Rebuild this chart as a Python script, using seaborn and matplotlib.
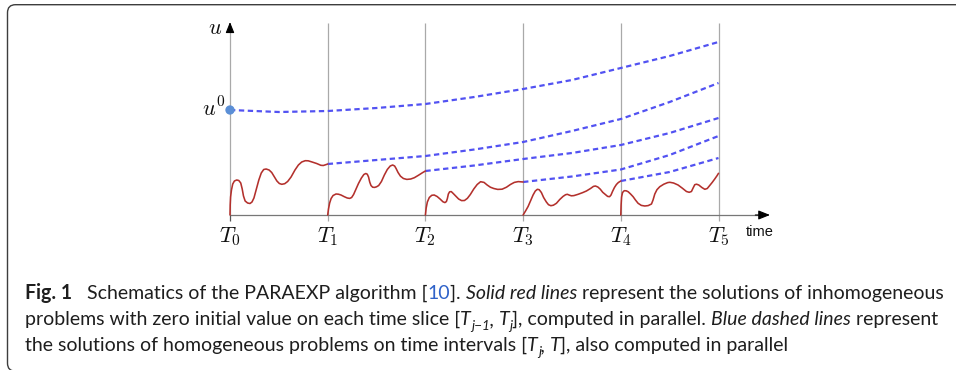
import matplotlib
matplotlib.use("Agg")
import numpy as np
import matplotlib.pyplot as plt
import seaborn as sns
from matplotlib.patches import FancyBboxPatch


# Data (time in slice units, u in arbitrary units)

slice_times = [0, 1, 2, 3, 4, 5]
slice_labels = [r"$T_0$", r"$T_1$", r"$T_2$", r"$T_3$", r"$T_4$", r"$T_5$"]

# solid red lines: inhomogeneous solutions on each slice
red1_t = [0, 0.002, 0.006, 0.015, 0.028, 0.045, 0.069, 0.09, 0.11, 0.125, 0.138, 0.155,
          0.18, 0.205, 0.225, 0.245, 0.27, 0.295, 0.32, 0.345, 0.37, 0.40, 0.427, 0.455,
          0.48, 0.505, 0.53, 0.56, 0.59, 0.625, 0.665, 0.70, 0.734, 0.77, 0.80, 0.84,
          0.887, 0.93, 0.955, 0.98, 1.0]
red1_u = [0, 10, 18, 25, 31, 34, 35, 34.5, 32, 26, 19, 14,
          12, 11.5, 13, 17, 26, 35, 42, 45.5, 46, 45, 42.5, 38,
          34, 31.5, 30.7, 31.3, 33.5, 38, 45, 50, 53, 54.3, 54.2, 53,
          51.5, 49.7, 49.5, 50.3, 51]

red2_t = [1.0, 1.008, 1.02, 1.035, 1.055, 1.085, 1.11, 1.136, 1.17, 1.20, 1.225, 1.245,
          1.265, 1.29, 1.315, 1.345, 1.37, 1.39, 1.405, 1.418, 1.43, 1.443, 1.46, 1.48,
          1.50, 1.522, 1.55, 1.58, 1.61, 1.64, 1.665, 1.685, 1.70, 1.72, 1.745, 1.775,
          1.81, 1.85, 1.887, 1.93, 1.97, 2.0]
red2_u = [0, 6, 12, 16.5, 19.5, 21, 20.8, 20, 18.3, 17, 16.6, 17.5,
          20.5, 26, 31.5, 37, 40.5, 41.5, 40.8, 38, 33, 29.5, 27.8, 27.6,
          28.2, 29.5, 33.5, 40, 45.5, 49, 50, 49, 46.5, 42.5, 38.8, 36.5,
          35.6, 36, 37.3, 39.8, 42.3, 44]

red3_t = [2.0, 2.008, 2.02, 2.04, 2.065, 2.09, 2.12, 2.15, 2.18, 2.2, 2.215, 2.225,
          2.235, 2.248, 2.265, 2.285, 2.31, 2.34, 2.37, 2.40, 2.43, 2.46, 2.495, 2.53,
          2.565, 2.60, 2.632, 2.665, 2.70, 2.74, 2.785, 2.83, 2.87, 2.91, 2.95, 3.0]
red3_u = [0, 7, 13, 17.5, 19.7, 20, 18.5, 16, 13.2, 12.4, 13.5, 16.5,
          21, 23.2, 23.4, 21.5, 19, 16, 14.4, 14.5, 16.7, 20.5, 26, 30.5,
          33.3, 32.6, 30, 27.8, 26.5, 25.6, 25.8, 27.8, 30.5, 32.6, 33.4, 33]

red4_t = [3.0, 3.025, 3.051, 3.08, 3.102, 3.125, 3.146, 3.165, 3.187, 3.21, 3.238, 3.26,
          3.284, 3.31, 3.341, 3.375, 3.409, 3.435, 3.453, 3.475, 3.494, 3.52, 3.563, 3.61,
          3.648, 3.69, 3.72, 3.74, 3.765, 3.79, 3.815, 3.842, 3.865, 3.885, 3.90, 3.915,
          3.935, 3.955, 3.975, 4.0]
red4_u = [0, 4, 8.5, 15, 20, 24, 25.7, 25.3, 22.5, 17.5, 13, 10.3,
          9.3, 9.8, 11.7, 15.5, 18.6, 20.3, 20.7, 19.8, 19.2, 19.4, 20.7, 22.4,
          24, 26.5, 28.6, 29, 28, 25.8, 22.7, 20.5, 18.6, 18.3, 20, 23.5,
          27.5, 30.5, 32.5, 34]

red5_t = [4.0, 4.003, 4.008, 4.018, 4.035, 4.055, 4.075, 4.10, 4.126, 4.15, 4.177, 4.21,
          4.246, 4.28, 4.314, 4.33, 4.348, 4.37, 4.399, 4.44, 4.48, 4.502, 4.54, 4.586,
          4.63, 4.672, 4.70, 4.723, 4.74, 4.757, 4.775, 4.798, 4.83, 4.86, 4.885, 4.91,
          4.935, 4.96, 4.985, 5.0]
red5_u = [0, 10, 18, 22.5, 24.3, 24.2, 23.3, 21, 18.3, 15, 11.7, 9.6,
          9, 9.4, 11, 15, 21, 25.3, 28.3, 30.8, 32.4, 32.7, 32, 30,
          26.8, 23.5, 22.7, 23.5, 27, 30.3, 30.8, 30, 27.5, 25.7, 26.5, 29.5,
          32.5, 35.8, 39.3, 41.7]

# blue dashed lines: homogeneous solutions on [T_j, T]
blue1_t = [0, 0.5, 1, 1.5, 2, 2.5, 3, 3.5, 4, 4.5, 5]
blue1_u = [105, 103, 104, 107, 111, 118, 126, 135, 147, 159, 173]
blue2_t = [1, 1.5, 2, 2.5, 3, 3.5, 4, 4.5, 5]
blue2_u = [51, 55, 59, 65.5, 73, 84, 96, 113, 132]
blue3_t = [2, 2.5, 3, 3.5, 4, 4.5, 5]
blue3_u = [44, 49.5, 56, 62, 70, 82, 97]
blue4_t = [3, 3.5, 4, 4.5, 5]
blue4_u = [33, 38.5, 45.5, 60, 79]
blue5_t = [4, 4.5, 5]
blue5_u = [34, 43, 57]

u0_value = 105

red_slices = [(red1_t, red1_u), (red2_t, red2_u), (red3_t, red3_u),
              (red4_t, red4_u), (red5_t, red5_u)]
blue_curves = [(blue1_t, blue1_u), (blue2_t, blue2_u), (blue3_t, blue3_u),
               (blue4_t, blue4_u), (blue5_t, blue5_u)]

caption_lines = [
    [("Fig. 1", "b"), ("   Schematics of the PARAEXP algorithm [", "n"), ("10", "link"),
     ("]. ", "n"), ("Solid red lines", "i"),
     (" represent the solutions of inhomogeneous", "n")],
    [("problems with zero initial value on each time slice [", "n"), ("T", "i"),
     ("j\u22121", "sub"), (", ", "i"), ("T", "i"), ("j", "sub"),
     ("], computed in parallel. ", "n"), ("Blue dashed lines", "i"), (" represent", "n")],
    [("the solutions of homogeneous problems on time intervals [", "n"), ("T", "i"),
     ("j", "sub"), (", ", "i"), ("T", "i"), ("], also computed in parallel", "n")],
]
caption_targets = [913, 915, 770]   # line widths in px


# Style

sns.set_style("white")
plt.rcParams['font.family'] = ['Lato', 'DejaVu Sans']
plt.rcParams['mathtext.fontset'] = 'cm'

W, H = 956, 370
fig = plt.figure(figsize=(W / 100, H / 100), dpi=100)


def fx(px):
    return px / W


def fy(py):
    return 1 - py / H


# Schematic axes

T_PX = 97.7
x0_px, axis_px, top_px, right_px = 230, 215, 23, 770
ax = fig.add_axes([fx(x0_px), fy(axis_px), (right_px - x0_px) / W, (axis_px - top_px) / H])
ax.axis('off')
xmax = (right_px - x0_px) / T_PX
ymax = axis_px - top_px

grey = "#a9a9a9"
ax.vlines(slice_times[1:], -6, ymax, color=grey, lw=0.9, clip_on=False, zorder=1)
ax.plot([0, 0], [0, ymax - 4], color=grey, lw=0.9, clip_on=False, zorder=1)
ax.plot([0, xmax - 0.1], [0, 0], color="#777777", lw=0.9, clip_on=False, zorder=1)
ax.vlines([0], -6, 0, color="#555555", lw=0.9, clip_on=False)

head = "-|>,head_length=0.5,head_width=0.2"
ax.annotate("", xy=(0, ymax + 1), xytext=(0, ymax - 8), annotation_clip=False,
            arrowprops=dict(arrowstyle=head, color="black", lw=0.8, mutation_scale=13,
                            shrinkA=0, shrinkB=0))
ax.annotate("", xy=(xmax, 0), xytext=(xmax - 0.15, 0), annotation_clip=False,
            arrowprops=dict(arrowstyle=head, color="black", lw=0.8, mutation_scale=14,
                            shrinkA=0, shrinkB=0))

for t, u in red_slices:
    sns.lineplot(x=t, y=u, ax=ax, color="#b3302c", lw=1.15, sort=False,
                 estimator=None, clip_on=False, zorder=3, solid_joinstyle="round")

for t, u in blue_curves:
    sns.lineplot(x=t, y=u, ax=ax, color="#5252f2", lw=1.6, sort=False, estimator=None,
                 linestyle=(0, (2.4, 1.6)), clip_on=False, zorder=2)

sns.scatterplot(x=[0], y=[u0_value], ax=ax, s=45, color="#5b8fd6", edgecolor="none",
                zorder=5, clip_on=False)

for t, lab in zip(slice_times, slice_labels):
    ax.text(t, -22, lab, ha="center", va="center", fontsize=16, color="#111111")

ax.text(-0.155, ymax - 5, r"$u$", ha="center", va="center", fontsize=16, color="#111111")
ax.text(-0.05, u0_value + 2, r"$u^0$", ha="right", va="center", fontsize=16, color="#111111")
ax.text(xmax - 0.11, -17, "time", ha="center", va="center", fontsize=10.5,
        family="Liberation Sans", color="#111111")

ax.set_xlim(0, xmax)
ax.set_ylim(0, ymax)


# Frame around the figure

frame = FancyBboxPatch((0.075, -0.012), 9.8, 3.665, boxstyle="round,pad=0,rounding_size=0.08",
                       transform=fig.dpi_scale_trans, facecolor="none", edgecolor="#3d3d3d",
                       lw=1.0, clip_on=False)
fig.add_artist(frame)


# Caption with mixed styles

renderer = fig.canvas.get_renderer()


def draw_caption_line(segments, x_px, base_px, size):
    artists = []
    x = x_px
    for text, style in segments:
        kw = dict(fontsize=size, color="#1e1e1e", va="baseline", ha="left")
        shift = 0
        if style == "b":
            kw["fontweight"] = "bold"
        elif style == "i":
            kw["fontstyle"] = "italic"
        elif style == "link":
            kw["color"] = "#2f62c9"
        elif style == "sub":
            kw["fontstyle"] = "italic"
            kw["fontsize"] = size * 0.7
            shift = size * 1.389 * 0.25
        t = fig.text(fx(x), fy(base_px + shift), text, **kw)
        artists.append(t)
        x += t.get_window_extent(renderer).width
    return x - x_px, artists


ratios = []
for seg, target in zip(caption_lines, caption_targets):
    w, arts = draw_caption_line(seg, 25, 300, 10)
    ratios.append(target / w)
    for a in arts:
        a.remove()
cap_size = 10 * np.mean(ratios)

for seg, base in zip(caption_lines, [299, 325, 351]):
    draw_caption_line(seg, 25, base, cap_size)

fig.savefig("out.png", dpi=100)
